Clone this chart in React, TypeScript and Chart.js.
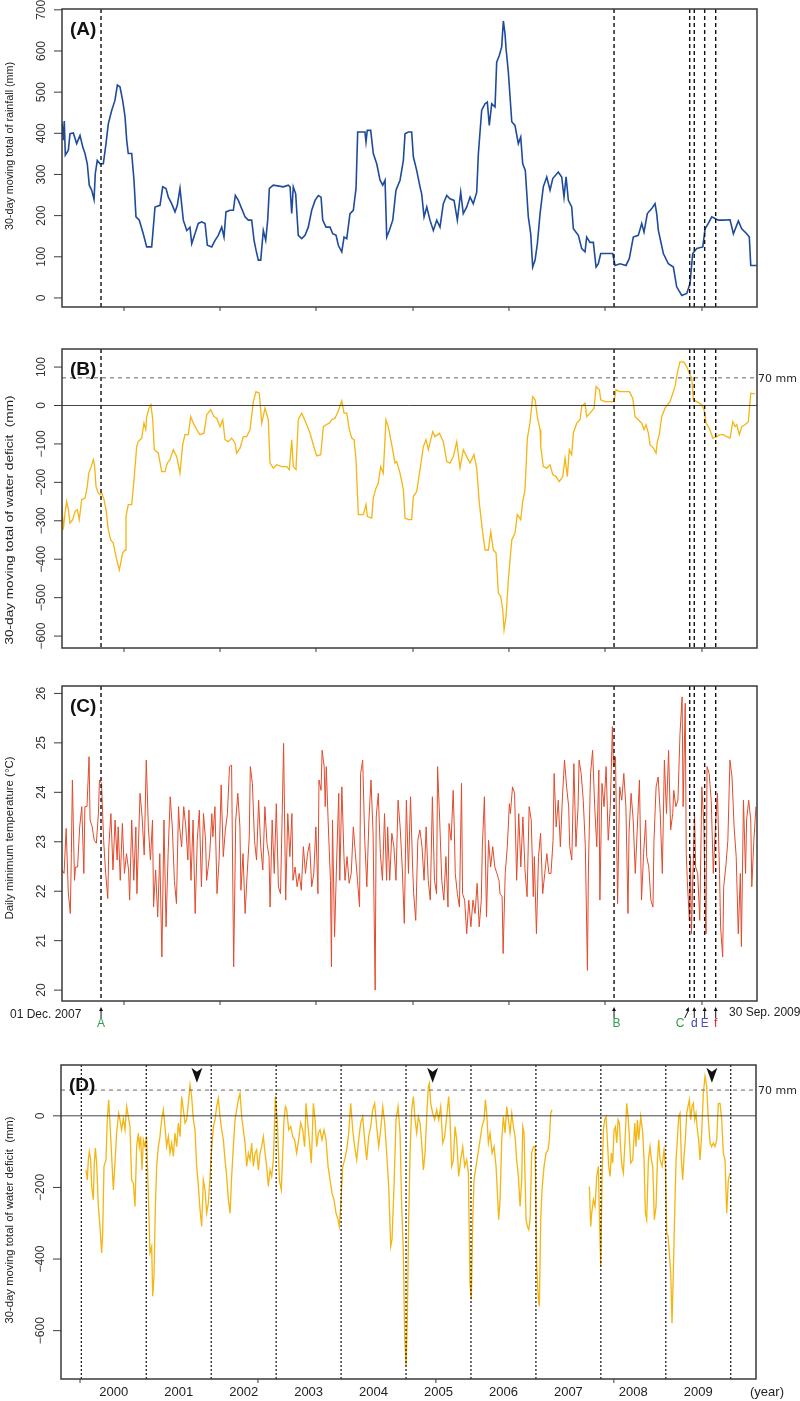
import React, { useEffect, useRef } from 'react';
import { Chart, registerables } from 'chart.js';
Chart.register(...registerables);

const FONT = '"Liberation Sans", Arial, sans-serif';

// ---------- Panels A-C: days since 01 Dec. 2007 ----------
const periodDays = [0, 668];
const eventDays = [37.5, 530.6, 603.3, 607.7, 617.7, 628.3];
const eventLabels = ['A', 'B', 'C', 'd', 'E', 'f'];
const eventColors = ['#2e9e4f', '#2e9e4f', '#2e9e4f', '#3a3aa8', '#4f4fc8', '#e0241b'];
const tickDays = [59.6, 151.9, 244.1, 337.4, 429.6, 521.9, 615.1];

// (A) 30-day moving total of rainfall (mm): [day, mm]
const rainfall: number[][] = [
  [0, 427], [1.3, 383], [2.2, 430], [3.2, 347], [6.1, 359], [7.7, 399], [10.9, 401], [14.1, 375], [17.3, 395], [19.9, 367],
  [22.1, 351], [24.3, 326], [26.2, 274], [28.5, 262], [30.8, 239], [32, 302], [33.9, 334], [36.5, 326], [39.7, 326], [42.3, 375],
  [44.5, 423], [47.8, 456], [50.9, 480], [53.2, 517], [55.7, 513], [58.3, 480], [60.6, 440], [62.2, 383], [63.7, 351], [67, 351],
  [69.2, 286], [71.1, 197], [74.3, 189], [78.1, 156], [81.4, 124], [86.2, 124], [89.4, 221], [94.2, 225], [96.8, 270], [100, 266],
  [102.2, 245], [105.4, 229], [108.6, 209], [110.8, 225], [113.4, 266], [116.6, 189], [119.9, 164], [123, 172], [124.7, 132], [127.8, 156],
  [131, 181], [134.3, 185], [137.5, 181], [139.7, 128], [143.9, 124], [147.1, 140], [150.2, 152], [153.5, 172], [155.7, 148], [157.6, 209],
  [161.5, 213], [164.7, 213], [166.6, 249], [169.5, 237], [172.7, 217], [175.9, 197], [179.1, 189], [182.3, 189], [184.6, 140], [186.5, 116],
  [188.7, 92], [191, 92], [193.5, 164], [195.8, 140], [197.7, 189], [199.3, 266], [203.1, 274], [212.7, 270], [217.5, 274], [219.2, 270],
  [220.8, 205], [222.3, 270], [224.6, 253], [227.1, 152], [230.4, 144], [233.6, 152], [236.7, 172], [240, 213], [243.2, 237], [246.4, 249],
  [249, 245], [250.6, 189], [253.8, 172], [257.6, 172], [260.2, 156], [263.4, 152], [265.6, 128], [268.9, 112], [271.1, 148], [273.7, 144],
  [276.8, 205], [280, 213], [282.6, 266], [284.2, 403], [291.2, 403], [292.2, 379], [293.4, 407], [296.7, 407], [299.2, 351], [302.5, 326],
  [305.7, 286], [308.3, 274], [310.5, 286], [312.1, 148], [314.6, 164], [317.9, 189], [321, 262], [324.9, 286], [328.1, 334], [329.7, 399],
  [332.9, 403], [336.1, 403], [337.7, 343], [340.9, 310], [344.1, 270], [345.7, 253], [348, 197], [350.6, 221], [353.7, 189], [356.9, 164],
  [360.2, 189], [363.3, 172], [366.5, 229], [369.8, 249], [372.9, 241], [376.8, 237], [380, 189], [383.2, 257], [385.7, 205], [389, 221],
  [392.2, 245], [395.3, 229], [398.6, 257], [400.2, 351], [403.4, 456], [406.6, 472], [408.8, 476], [410.7, 419], [413, 472], [416.2, 464],
  [417.8, 573], [420.3, 589], [422.6, 610], [424.2, 673], [425.8, 642], [426.8, 606], [429, 549], [432.3, 428], [435.4, 419], [438.6, 375],
  [440.9, 391], [442.8, 326], [445.3, 310], [448.2, 197], [450.5, 156], [452.4, 75], [454.7, 92], [456.9, 132], [459.5, 205], [462.6, 270],
  [465.9, 294], [469.1, 262], [471.7, 290], [477, 306], [480.3, 294], [482.5, 245], [484.5, 294], [486.7, 237], [489.9, 221], [491.5, 168],
  [496.3, 152], [499.5, 120], [502.7, 112], [504.3, 148], [507.5, 135], [510.7, 135], [513.3, 75], [515.5, 83], [517.8, 108], [529.3, 108],
  [531.5, 79], [536.4, 83], [542.1, 79], [545.3, 96], [549.1, 148], [553.9, 152], [557.2, 181], [559.4, 160], [562.6, 205], [566.8, 217],
  [570, 229], [571.6, 205], [573.2, 164], [578, 108], [582.8, 83], [587.6, 75], [590.8, 27], [595.7, 6], [600.5, 11], [603.6, 35],
  [606.2, 108], [610.1, 120], [615.9, 124], [618.1, 168], [621.2, 181], [624.5, 197], [627.7, 193], [630.8, 189], [635.6, 189], [642.1, 190],
  [645.3, 156], [650.1, 187], [653.3, 168], [658.1, 156], [660.6, 148], [662, 79], [667.8, 79],
];

// (B) 30-day moving total of water deficit (mm): [day, mm]
const deficit: number[][] = [
  [0, -263], [1.2, -323], [2.9, -280], [4.5, -250], [6.1, -271], [7.7, -306], [10.3, -297], [12.5, -276], [14.7, -271], [16.6, -297],
  [18.9, -245], [22.1, -241], [24.3, -211], [25.7, -176], [27.6, -163], [30.1, -141], [31.4, -159], [32.7, -211], [34.9, -228], [36.5, -232],
  [38.2, -228], [40.4, -245], [42.3, -271], [44.5, -323], [46.8, -350], [49.3, -358], [51.9, -393], [55.1, -428], [58.3, -384], [60.6, -376],
  [61.5, -289], [63.7, -258], [67, -258], [69.2, -193], [71.8, -107], [73.3, -94], [76.6, -85], [78.8, -46], [80.5, -63], [81.4, -29],
  [83.6, -7], [85.5, 2], [87.2, -37], [88.7, -115], [92.6, -124], [95.8, -172], [99, -172], [101.2, -150], [103.8, -141], [107, -115],
  [110.3, -133], [113.4, -176], [116, -102], [118.2, -76], [121.4, -76], [123.7, -29], [126.2, -46], [129.5, -63], [132.6, -76], [136.5, -72],
  [139.1, -24], [142.9, -11], [146.1, -29], [148.7, -33], [151.9, -55], [154.5, -37], [156.7, -89], [159.8, -94], [163.1, -85], [166.3, -98],
  [167.9, -124], [171.1, -111], [174.3, -81], [177.5, -81], [180.7, -63], [183.9, 10], [186.5, 36], [189.6, 32], [192, -46], [195.1, -7],
  [198.3, -37], [199.9, -150], [203.1, -163], [206.4, -154], [211.2, -159], [216, -159], [218.5, -167], [220.8, -89], [222.3, -159], [224.9, -167],
  [227.1, -37], [230.4, -20], [232.6, -33], [235.2, -50], [238.4, -72], [241.5, -102], [244.8, -131], [248.7, -128], [251.2, -55], [253.8, -50],
  [256.9, -46], [259.2, -37], [262.4, -33], [264.6, -20], [266.5, -7], [268.9, 12], [271.1, -20], [273.7, -20], [276.2, -63], [278.5, -85],
  [280.7, -89], [282.6, -141], [284.8, -284], [289.6, -284], [292.2, -258], [293.5, -289], [297.7, -293], [299.2, -241], [301.8, -215], [304, -202],
  [306.3, -159], [308.8, -176], [311.4, -37], [313.6, -55], [316.9, -102], [320.1, -150], [321.7, -146], [324.9, -176], [328.1, -219], [329.7, -293],
  [332.9, -297], [336.1, -297], [337.7, -237], [340.9, -224], [344.1, -167], [347.3, -107], [349.9, -89], [352.1, -115], [356.3, -68], [358.5, -81],
  [362.7, -72], [366.5, -94], [369.8, -146], [372.9, -150], [376.1, -133], [379.4, -94], [382.6, -163], [385.7, -115], [389, -133], [392.2, -150],
  [396, -128], [398.6, -163], [401.1, -254], [404.4, -332], [406.6, -376], [409.8, -376], [412.1, -328], [414.6, -376], [417.2, -384], [419.4, -488],
  [421.7, -497], [423.6, -532], [424.9, -584], [426.8, -549], [429, -454], [432.3, -350], [435.4, -332], [437.6, -284], [440.9, -297], [442.8, -250],
  [445, -219], [447.3, -85], [449.8, -46], [452.4, 23], [454.7, 15], [456.9, -29], [459.5, -63], [460.2, -107], [462.6, -159], [465.9, -163],
  [469.1, -154], [471.7, -180], [474.8, -185], [478, -198], [481.3, -185], [483.5, -137], [485.7, -185], [487.6, -115], [489.9, -128], [491.5, -72],
  [494.7, -46], [497.9, -37], [499.5, -3], [502.7, 6], [504.3, -29], [507.5, -20], [511.4, -7], [513.3, 49], [516.5, 41], [517.8, 15],
  [521.9, 10], [526.7, 10], [530.6, 10], [532.5, 41], [535.7, 36], [541.2, 36], [545.3, 36], [548.6, 19], [550.8, -29], [553.9, -37],
  [557.2, -46], [559.4, -63], [561.3, -50], [563.6, -72], [565.2, -102], [568.4, -111], [571, -124], [572.2, -94], [574.1, -76], [576.4, -29],
  [579.6, -7], [584.4, 10], [586, 23], [589.2, 49], [591.4, 84], [594, 114], [597.9, 112], [600.5, 101], [603, 84], [605.3, 71],
  [606.8, 15], [610.1, 10], [614.9, 2], [617.1, -11], [619, -46], [622.2, -59], [625.5, -85], [629.3, -81], [632.5, -76], [635.6, -76],
  [638.9, -81], [642.1, -85], [644.7, -42], [646.9, -55], [648.5, -50], [651, -76], [653.3, -55], [656.5, -50], [659.7, -42], [662, 32],
  [666.1, 30],
];

// (C) Daily minimum temperature (°C): [day, °C]
const minTemp: number[][] = [
  [0, 22.43], [2, 22.36], [4, 23.27], [6, 21.99], [8, 21.55], [9, 22.76], [10, 24.25], [12, 22.22], [13, 22.49], [15, 22.49],
  [17, 23.3], [19, 23.71], [21, 22.36], [22, 23.71], [24, 23.71], [26, 24.72], [27, 23.44], [29, 23.3], [31, 23.03], [33, 22.97],
  [35, 23.57], [36, 24.25], [38, 24.18], [40, 23.03], [42, 22.36], [44, 21.85], [45, 22.9], [47, 23.57], [49, 22.43], [51, 23.44],
  [53, 22.63], [54, 23.3], [56, 22.22], [58, 23.37], [60, 22.36], [62, 22.76], [64, 22.43], [65, 21.82], [67, 23.44], [69, 22.22],
  [71, 23.3], [72, 21.95], [75, 23.98], [77, 23.5], [79, 22.73], [81, 24.65], [83, 23.3], [85, 22.63], [87, 23.44], [88, 21.68],
  [90, 22.43], [92, 21.48], [94, 22.76], [96, 20.67], [98, 23.44], [100, 21.28], [102, 22.76], [104, 23.91], [106, 23.3], [108, 22.22],
  [110, 21.75], [112, 23.71], [113, 23.3], [115, 22.9], [117, 23.71], [119, 23.3], [121, 22.63], [122, 23.64], [124, 22.22], [126, 23.44],
  [128, 21.55], [130, 23.03], [132, 23.64], [134, 22.09], [136, 23.57], [138, 23.03], [139, 22.22], [142, 22.76], [144, 23.57], [145, 23.1],
  [147, 23.71], [149, 21.95], [151, 22.63], [153, 24.15], [155, 22.7], [157, 23.24], [159, 23.57], [161, 24.52], [163, 24.55], [165, 20.47],
  [167, 23.44], [169, 23.98], [171, 23.3], [172, 22.02], [174, 22.76], [176, 21.55], [178, 22.36], [180, 23.1], [181, 24.52], [183, 24.18],
  [185, 23.03], [187, 22.63], [189, 23.84], [191, 22.9], [193, 22.43], [195, 23.71], [197, 22.97], [199, 22.7], [200, 21.68], [202, 23.44],
  [204, 22.36], [206, 23.77], [208, 22.09], [210, 21.95], [212, 23.91], [213, 24.99], [215, 21.82], [217, 23.57], [219, 22.7], [221, 23.57],
  [222, 22.22], [224, 22.49], [226, 22.09], [228, 22.36], [230, 22.02], [232, 22.9], [234, 22.36], [236, 22.76], [238, 22.97], [240, 22.09],
  [242, 22.36], [244, 23.3], [246, 21.95], [247, 24.25], [249, 24.04], [250, 24.85], [252, 24.52], [253, 23.71], [254, 24.52], [256, 23.3],
  [258, 22.22], [259, 20.47], [260, 23.44], [262, 21.08], [264, 22.63], [266, 23.98], [267, 22.22], [269, 24.11], [271, 22.7], [272, 22.22],
  [274, 22.7], [276, 22.16], [278, 22.36], [280, 23.3], [282, 22.76], [284, 22.22], [286, 21.68], [287, 24.38], [289, 24.65], [291, 23.03],
  [293, 22.09], [295, 23.44], [297, 24.25], [299, 23.17], [301, 20.0], [302, 23.5], [304, 23.98], [306, 22.76], [308, 22.22], [310, 23.57],
  [312, 22.22], [313, 23.3], [315, 22.22], [317, 23.17], [319, 22.9], [321, 22.22], [323, 23.84], [325, 23.3],
  [327, 22.49], [329, 21.35], [331, 23.84], [333, 22.36], [335, 23.91], [337, 22.49], [338, 21.95], [340, 21.41], [342, 23.03], [344, 23.24],
  [346, 22.9], [348, 22.22], [350, 23.3], [352, 22.22], [354, 21.82], [356, 23.91], [358, 22.22], [360, 21.95], [361, 24.52], [363, 23.44],
  [365, 22.22], [367, 21.82], [369, 22.7], [371, 21.68], [372, 23.37], [374, 23.03], [376, 24.04], [377, 23.3], [378, 22.36], [380, 21.95],
  [382, 21.68], [384, 24.18], [385, 21.95], [387, 21.82], [389, 21.14], [391, 21.82], [393, 21.28], [395, 21.82], [397, 21.55], [399, 22.16],
  [401, 21.28], [403, 21.82], [404, 22.9], [406, 23.91], [408, 21.48], [410, 23.03], [412, 22.49], [414, 22.9], [416, 22.49], [418, 22.36],
  [420, 22.22], [421, 21.95], [423, 21.89], [424, 20.74], [426, 22.36], [428, 22.9], [430, 23.77], [431, 23.57], [433, 24.11], [435, 23.98],
  [437, 22.22], [439, 23.57], [441, 22.49], [443, 23.5], [445, 22.43], [447, 21.89], [449, 23.71], [451, 23.44], [453, 21.89], [454, 22.7],
  [456, 21.14], [458, 22.7], [460, 23.17], [462, 21.95], [464, 22.36], [466, 22.76], [468, 22.36], [470, 22.36], [472, 23.03], [473, 24.38],
  [475, 23.3], [477, 23.84], [479, 22.9], [481, 23.91], [483, 24.65], [485, 24.11], [487, 23.71], [488, 22.9], [490, 22.63], [492, 24.58],
  [494, 22.9], [496, 23.71], [497, 24.65], [499, 24.38], [501, 23.84], [503, 22.9], [505, 20.4], [506, 22.49], [508, 24.38], [510, 24.85],
  [512, 23.71], [514, 22.9], [516, 24.45], [517, 21.82], [519, 24.18], [521, 23.71], [523, 24.52], [525, 23.03], [527, 23.71], [529, 25.33],
  [530, 24.52], [532, 24.72], [534, 21.75], [536, 24.11], [538, 23.84], [540, 24.38], [542, 23.71], [544, 21.55], [545, 23.17], [547, 23.98],
  [549, 23.44], [551, 22.36], [553, 23.3], [555, 24.25], [557, 21.82], [559, 22.76], [561, 23.44], [562, 22.7], [564, 22.49], [566, 21.82],
  [568, 21.68], [569, 23.03], [571, 24.11], [573, 24.31], [575, 23.57], [577, 22.36], [579, 24.65], [581, 23.57], [583, 24.85], [585, 23.24],
  [587, 23.57], [588, 24.04], [590, 23.71], [592, 23.84], [594, 25.19], [596, 25.93], [597, 23.71], [599, 25.8], [600, 22.76], [601, 22.22],
  [603, 21.41], [604, 22.7], [605, 21.14], [606, 22.02], [608, 23.57], [609, 22.49], [611, 22.36], [613, 21.41], [615, 24.11], [617, 23.3],
  [618, 21.95], [619, 21.14], [620, 24.52], [622, 24.38], [624, 23.84], [626, 22.36], [628, 23.3], [630, 23.98], [632, 22.36], [633, 21.28],
  [635, 20.67], [636, 22.09], [638, 22.49], [640, 23.03], [642, 24.65], [644, 24.31], [646, 23.3], [648, 22.7], [650, 21.14], [652, 22.36],
  [653, 20.88], [655, 23.84], [657, 22.36], [658, 23.44], [660, 23.84], [662, 23.44], [663, 22.09], [665, 23.03], [667, 23.71],
];

// ---------- Panel D: decimal year ----------
const yearRange = [1999.687, 2010.389];
const yearBounds = [2000, 2001, 2002, 2003, 2004, 2005, 2006, 2007, 2008, 2009, 2010];
const yearLabels = ['2000', '2001', '2002', '2003', '2004', '2005', '2006', '2007', '2008', '2009'];
const longTicks = [1999.98, 2002.72, 2005.46, 2008.2];
const peakYears = [2001.78, 2005.41, 2009.71];
const peakLevel = 115;
const deficitThreshold = 72;

// (D) 30-day moving total of water deficit 2000-2009: [year, mm] (null = missing data)
const longDeficit: (number | null)[][] = [
  [2000.072, -151], [2000.092, -179], [2000.108, -123], [2000.123, -100], [2000.144, -123], [2000.159, -197], [2000.185, -234], [2000.2, -132], [2000.216, -90], [2000.236, -132],
  [2000.262, -253], [2000.287, -309], [2000.313, -383], [2000.329, -327], [2000.349, -141], [2000.38, -123], [2000.4, -11], [2000.421, 45], [2000.441, -20], [2000.467, -113],
  [2000.493, -207], [2000.518, -132], [2000.544, -48], [2000.575, 7], [2000.595, -11], [2000.621, -39], [2000.647, -7], [2000.672, -39], [2000.698, 26], [2000.724, -2],
  [2000.749, -30], [2000.775, -179], [2000.801, -188], [2000.826, -253], [2000.852, -86], [2000.878, -48], [2000.893, -86], [2000.914, -58], [2000.934, -151], [2000.955, -67],
  [2000.98, -86], [2001.006, -58], [2001.016, -123], [2001.037, -253], [2001.057, -383], [2001.083, -365], [2001.099, -504], [2001.119, -448], [2001.14, -253], [2001.16, -141],
  [2001.186, -86], [2001.211, -58], [2001.237, -11], [2001.263, 17], [2001.288, -30], [2001.314, -86], [2001.34, -58], [2001.366, -104], [2001.391, -76], [2001.417, -113],
  [2001.442, -48], [2001.468, -86], [2001.494, -20], [2001.52, -58], [2001.545, 54], [2001.571, 17], [2001.597, -20], [2001.622, -11], [2001.648, 35], [2001.674, 87],
  [2001.699, 54], [2001.725, -11], [2001.75, -39], [2001.776, -141], [2001.802, -197], [2001.828, -262], [2001.853, -309], [2001.879, -179], [2001.905, -207], [2001.93, -272],
  [2001.956, -244], [2001.982, -169], [2002.002, -104], [2002.033, -30], [2002.059, -11], [2002.084, 26], [2002.11, 49], [2002.136, -2], [2002.161, -39], [2002.187, -67],
  [2002.213, -123], [2002.238, -169], [2002.264, -234], [2002.29, -272], [2002.315, -169], [2002.341, -86], [2002.367, -11], [2002.392, 17], [2002.418, 45], [2002.444, 63],
  [2002.469, -2], [2002.495, -39], [2002.521, -76], [2002.546, -141], [2002.572, -104], [2002.598, -123], [2002.623, -76], [2002.649, -141], [2002.675, -104], [2002.7, -95],
  [2002.726, -151], [2002.752, -104], [2002.777, -86], [2002.803, -58], [2002.829, -104], [2002.854, -141], [2002.88, -197], [2002.906, -151], [2002.931, -169], [2002.957, -123],
  [2002.988, 54], [2003.018, -11], [2003.049, -179], [2003.08, -207], [2003.101, -104], [2003.121, -11], [2003.142, 26], [2003.162, 17], [2003.193, -39], [2003.224, -30],
  [2003.255, -58], [2003.285, -67], [2003.316, -104], [2003.347, -67], [2003.378, -20], [2003.409, -39], [2003.439, -86], [2003.46, 35], [2003.481, -11], [2003.511, -67],
  [2003.542, -132], [2003.573, 35], [2003.599, -11], [2003.624, -86], [2003.65, -48], [2003.676, -39], [2003.706, -67], [2003.737, -39], [2003.768, -67], [2003.799, -141],
  [2003.83, -179], [2003.86, -216], [2003.891, -234], [2003.922, -272], [2003.953, -290], [2003.973, -309], [2003.994, -253], [2004.025, -141], [2004.055, -123], [2004.086, -95],
  [2004.117, -48], [2004.148, 35], [2004.179, -39], [2004.209, -86], [2004.24, -123], [2004.271, -67], [2004.302, -20], [2004.333, -2], [2004.363, -67], [2004.394, -123],
  [2004.425, -58], [2004.456, -30], [2004.487, 17], [2004.517, 35], [2004.548, -30], [2004.579, -86], [2004.61, -39], [2004.641, 26], [2004.671, -20], [2004.702, -104],
  [2004.733, -197], [2004.764, -365], [2004.784, -346], [2004.815, -197], [2004.846, -11], [2004.877, 26], [2004.908, -48], [2004.933, -253], [2004.959, -383], [2004.979, -616],
  [2005.0, -700], [2005.02, -569], [2005.041, -290], [2005.062, -104], [2005.087, 17], [2005.113, 54], [2005.139, -11], [2005.164, -48], [2005.19, -2], [2005.216, -20],
  [2005.241, -76], [2005.267, -151], [2005.293, -104], [2005.318, -2], [2005.344, 82], [2005.359, 91], [2005.38, 35], [2005.411, 7], [2005.441, -11], [2005.472, 17],
  [2005.503, -11], [2005.534, 26], [2005.565, -76], [2005.595, -58], [2005.626, -2], [2005.657, 54], [2005.678, -11], [2005.703, -141], [2005.729, -123], [2005.755, -30],
  [2005.78, -67], [2005.811, -169], [2005.842, -123], [2005.873, -86], [2005.903, -141], [2005.934, -123], [2005.96, -160], [2005.985, -467], [2006.006, -513], [2006.027, -290],
  [2006.047, -179], [2006.078, -141], [2006.109, -104], [2006.14, -67], [2006.17, -30], [2006.201, -11], [2006.222, 45], [2006.242, 7], [2006.268, -76], [2006.294, -48],
  [2006.325, -104], [2006.355, -86], [2006.386, -141], [2006.407, -216], [2006.427, -290], [2006.448, -234], [2006.474, -67], [2006.499, -2], [2006.525, -48], [2006.551, 26],
  [2006.576, -11], [2006.602, -48], [2006.628, 7], [2006.653, -30], [2006.679, -58], [2006.704, -123], [2006.73, -169], [2006.756, -253], [2006.781, -179], [2006.797, -30],
  [2006.817, -48], [2006.848, -290], [2006.869, -309], [2006.889, -318], [2006.91, -290], [2006.935, -104], [2006.961, -86], [2006.987, -86], [2007.012, -420], [2007.038, -513],
  [2007.053, -532], [2007.074, -290], [2007.094, -207], [2007.125, -141], [2007.156, -104], [2007.187, -95], [2007.207, -67], [2007.228, 7], [2007.248, 17], [2007.5, null],
  [2007.823, -197], [2007.844, -309], [2007.859, -272], [2007.885, -234], [2007.911, -253], [2007.936, -169], [2007.962, -141], [2007.977, -272], [2007.998, -420], [2008.018, -179],
  [2008.039, -39], [2008.059, -11], [2008.08, -2], [2008.1, -67], [2008.121, -141], [2008.142, -169], [2008.162, -104], [2008.183, -132], [2008.203, -39], [2008.224, -30],
  [2008.244, -76], [2008.265, -11], [2008.285, -20], [2008.306, -95], [2008.326, -141], [2008.347, -160], [2008.373, -67], [2008.398, 35], [2008.419, -2], [2008.439, -58],
  [2008.46, -132], [2008.491, -123], [2008.522, -20], [2008.542, -86], [2008.563, -11], [2008.583, -67], [2008.614, -2], [2008.645, -48], [2008.665, -123], [2008.686, -272],
  [2008.706, -290], [2008.732, -123], [2008.758, -86], [2008.778, -123], [2008.799, -141], [2008.824, -290], [2008.85, -253], [2008.871, -123], [2008.891, -67], [2008.912, -123],
  [2008.943, -141], [2008.973, -95], [2008.994, -141], [2009.014, -327], [2009.035, -337], [2009.055, -383], [2009.076, -439], [2009.096, -579], [2009.117, -430], [2009.137, -272],
  [2009.158, -123], [2009.178, -67], [2009.199, -2], [2009.219, 7], [2009.24, -123], [2009.26, -179], [2009.281, -113], [2009.301, -67], [2009.322, 7], [2009.342, 26],
  [2009.363, 45], [2009.383, -11], [2009.404, 26], [2009.424, 35], [2009.445, -11], [2009.465, 7], [2009.486, -39], [2009.506, -67], [2009.527, -123], [2009.553, -48],
  [2009.578, 63], [2009.604, 110], [2009.63, 82], [2009.655, -11], [2009.681, -76], [2009.707, -86], [2009.732, -76], [2009.758, -86], [2009.784, -67], [2009.809, 35],
  [2009.835, 35], [2009.861, -11], [2009.886, -104], [2009.912, -123], [2009.938, -272], [2009.963, -179], [2009.989, -160],
];

const rainTicks = [0, 100, 200, 300, 400, 500, 600, 700];
const deficitTicks = [100, 0, -100, -200, -300, -400, -500, -600];
const tempTicks = [20, 21, 22, 23, 24, 25, 26];
const longTicksY = [0, -200, -400, -600];

const BLUE = '#1f4b9c';
const AMBER = '#f5b512';
const RED = '#e24a2c';

const PANELS = [
  { top: 0, h: 330 },
  { top: 320, h: 340 },
  { top: 650, h: 400 },
  { top: 1040, h: 361 },
];

function lab(v: number) {
  return v < 0 ? '\u2212' + Math.abs(v) : String(v);
}

function vText(ctx: CanvasRenderingContext2D, text: string, x: number, y: number, font: string, color: string, len?: number) {
  ctx.save();
  ctx.translate(x, y);
  ctx.rotate(-Math.PI / 2);
  ctx.font = font;
  ctx.fillStyle = color;
  ctx.textAlign = 'center';
  ctx.textBaseline = 'middle';
  if (len) {
    const w = ctx.measureText(text).width;
    ctx.scale(len / w, 1);
  }
  ctx.fillText(text, 0, 0);
  ctx.restore();
}

function hText(ctx: CanvasRenderingContext2D, text: string, x: number, y: number, font: string, color: string, align: CanvasTextAlign = 'left') {
  ctx.save();
  ctx.font = font;
  ctx.fillStyle = color;
  ctx.textAlign = align;
  ctx.textBaseline = 'middle';
  ctx.fillText(text, x, y);
  ctx.restore();
}

function frame(chart: any) {
  const { ctx, chartArea: ca } = chart;
  ctx.save();
  ctx.strokeStyle = '#3a3a3a';
  ctx.lineWidth = 1.5;
  ctx.setLineDash([]);
  ctx.strokeRect(ca.left, ca.top, ca.right - ca.left, ca.bottom - ca.top);
  ctx.restore();
}

// titleY is given in page coordinates; panelTop converts it into canvas coordinates
function yAxis(chart: any, ticks: number[], title: string, titleY: number, titleLen: number, panelTop: number) {
  const { ctx, chartArea: ca } = chart;
  const ys = chart.scales.y;
  ctx.save();
  ctx.strokeStyle = '#3a3a3a';
  ctx.lineWidth = 1;
  ticks.forEach((v) => {
    const py = ys.getPixelForValue(v);
    ctx.beginPath();
    ctx.moveTo(ca.left - 8, py);
    ctx.lineTo(ca.left, py);
    ctx.stroke();
    vText(ctx, lab(v), ca.left - 20, py, `12px ${FONT}`, '#333');
  });
  ctx.restore();
  vText(ctx, title, 10, titleY - panelTop, `11px ${FONT}`, '#222', titleLen);
}

function xTicks(chart: any, values: number[]) {
  const { ctx, chartArea: ca } = chart;
  const xs = chart.scales.x;
  ctx.save();
  ctx.strokeStyle = '#3a3a3a';
  ctx.lineWidth = 1;
  values.forEach((v) => {
    const px = xs.getPixelForValue(v);
    ctx.beginPath();
    ctx.moveTo(px, ca.bottom);
    ctx.lineTo(px, ca.bottom + 4);
    ctx.stroke();
  });
  ctx.restore();
}

function vLines(chart: any, values: number[], dash: number[], width: number) {
  const { ctx, chartArea: ca } = chart;
  const xs = chart.scales.x;
  ctx.save();
  ctx.strokeStyle = '#111';
  ctx.lineWidth = width;
  ctx.setLineDash(dash);
  values.forEach((v) => {
    const px = xs.getPixelForValue(v);
    ctx.beginPath();
    ctx.moveTo(px, ca.top);
    ctx.lineTo(px, ca.bottom);
    ctx.stroke();
  });
  ctx.restore();
}

function hLine(chart: any, v: number, dash: number[], color: string, width: number) {
  const { ctx, chartArea: ca } = chart;
  const py = chart.scales.y.getPixelForValue(v);
  ctx.save();
  ctx.strokeStyle = color;
  ctx.lineWidth = width;
  ctx.setLineDash(dash);
  ctx.beginPath();
  ctx.moveTo(ca.left, py);
  ctx.lineTo(ca.right, py);
  ctx.stroke();
  ctx.restore();
}

function panelTag(chart: any, text: string) {
  const { ctx, chartArea: ca } = chart;
  hText(ctx, text, ca.left + 8, ca.top + 21, `bold 19px ${FONT}`, '#111');
}

function makeChart(canvas: HTMLCanvasElement, o: any) {
  return new Chart(canvas, {
    type: 'line',
    data: {
      datasets: [
        {
          data: o.series.map((p: any) => ({ x: p[0], y: p[1] })),
          borderColor: o.color,
          borderWidth: o.width,
          pointRadius: 0,
          tension: 0,
          fill: false,
          spanGaps: false,
        },
      ],
    },
    options: {
      responsive: false,
      animation: false,
      events: [],
      layout: { padding: o.pad },
      plugins: { legend: { display: false }, tooltip: { enabled: false } },
      scales: {
        x: { type: 'linear', min: o.xMin, max: o.xMax, display: false },
        y: { type: 'linear', min: o.yMin, max: o.yMax, display: false },
      },
    },
    plugins: [{ id: 'decor', afterDatasetsDraw: (chart: any) => o.draw(chart) }],
  } as any);
}

export default function App() {
  const r0 = useRef<HTMLCanvasElement>(null);
  const r1 = useRef<HTMLCanvasElement>(null);
  const r2 = useRef<HTMLCanvasElement>(null);
  const r3 = useRef<HTMLCanvasElement>(null);

  useEffect(() => {
    const charts: Chart[] = [];

    charts.push(
      makeChart(r0.current!, {
        series: rainfall, color: BLUE, width: 1.6,
        xMin: periodDays[0], xMax: periodDays[1], yMin: -22, yMax: 702,
        pad: { left: 62, right: 43, top: 9, bottom: 23 },
        draw: (c: any) => {
          vLines(c, eventDays, [4, 3], 1.4);
          frame(c);
          yAxis(c, rainTicks, '30-day moving total of rainfall (mm)', 146, 168, PANELS[0].top);
          xTicks(c, tickDays);
          panelTag(c, '(A)');
        },
      })
    );

    charts.push(
      makeChart(r1.current!, {
        series: deficit, color: AMBER, width: 1.3,
        xMin: periodDays[0], xMax: periodDays[1], yMin: -631, yMax: 147,
        pad: { left: 62, right: 43, top: 29, bottom: 12 },
        draw: (c: any) => {
          hLine(c, 0, [], '#444', 1);
          hLine(c, deficitThreshold, [4, 4], '#666', 1);
          vLines(c, eventDays, [4, 3], 1.4);
          frame(c);
          yAxis(c, deficitTicks, '30-day moving total of water deficit  (mm)', 520, 249, PANELS[1].top);
          xTicks(c, tickDays);
          panelTag(c, '(B)');
          const py = c.scales.y.getPixelForValue(deficitThreshold);
          hText(c.ctx, '70 mm', c.chartArea.right + 1, py + 1, `11px "DejaVu Sans", sans-serif`, '#222');
        },
      })
    );

    charts.push(
      makeChart(r2.current!, {
        series: minTemp, color: RED, width: 1,
        xMin: periodDays[0], xMax: periodDays[1], yMin: 19.78, yMax: 26.15,
        pad: { left: 62, right: 43, top: 36, bottom: 49 },
        draw: (c: any) => {
          vLines(c, eventDays, [4, 3], 1.4);
          frame(c);
          yAxis(c, tempTicks, 'Daily minimum temperature (\u00B0C)', 838, 163, PANELS[2].top);
          xTicks(c, tickDays);
          panelTag(c, '(C)');
          const { ctx, chartArea: ca } = c;
          const xs = c.scales.x;
          const labelOffsets = [0, 2.5, -9.5, 0, 0, 0];
          eventDays.forEach((d, i) => {
            const px = xs.getPixelForValue(d);
            const slant = i === 2 ? -5 : 0;
            const x0 = px + slant, y0 = ca.bottom + 17;
            const x1 = px - (slant ? 1 : 0), y1 = ca.bottom + 6;
            ctx.save();
            ctx.strokeStyle = '#111';
            ctx.fillStyle = '#111';
            ctx.lineWidth = 1;
            ctx.beginPath();
            ctx.moveTo(x0, y0);
            ctx.lineTo(x1, y1 + 3);
            ctx.stroke();
            const ang = Math.atan2(y1 - y0, x1 - x0);
            ctx.beginPath();
            ctx.moveTo(x1, y1);
            ctx.lineTo(x1 - 4.5 * Math.cos(ang - 0.45), y1 - 4.5 * Math.sin(ang - 0.45));
            ctx.lineTo(x1 - 4.5 * Math.cos(ang + 0.45), y1 - 4.5 * Math.sin(ang + 0.45));
            ctx.closePath();
            ctx.fill();
            ctx.restore();
            hText(ctx, eventLabels[i], px + labelOffsets[i], ca.bottom + 23, `12px ${FONT}`, eventColors[i], 'center');
          });
          hText(ctx, '01 Dec. 2007', 10, ca.bottom + 14, `12px ${FONT}`, '#222');
          hText(ctx, '30 Sep. 2009', ca.right - 28, ca.bottom + 12, `12px ${FONT}`, '#222');
        },
      })
    );

    charts.push(
      makeChart(r3.current!, {
        series: longDeficit, color: AMBER, width: 1.3,
        xMin: yearRange[0], xMax: yearRange[1], yMin: -735, yMax: 142,
        pad: { left: 61, right: 44, top: 25, bottom: 22 },
        draw: (c: any) => {
          const { ctx, chartArea: ca } = c;
          const xs = c.scales.x;
          const ys = c.scales.y;
          hLine(c, 0, [], '#444', 1);
          hLine(c, deficitThreshold, [4, 4], '#666', 1);
          vLines(c, yearBounds, [2, 2], 1.2);
          frame(c);
          yAxis(c, longTicksY, '30-day moving total of water deficit  (mm)', 1220, 207, PANELS[3].top);
          xTicks(c, longTicks);
          panelTag(c, '(D)');
          ctx.save();
          ctx.fillStyle = '#111';
          peakYears.forEach((yr) => {
            const px = xs.getPixelForValue(yr);
            const py = ys.getPixelForValue(peakLevel);
            ctx.beginPath();
            ctx.moveTo(px, py + 8);
            ctx.lineTo(px - 5.5, py - 7);
            ctx.lineTo(px, py - 3);
            ctx.lineTo(px + 5.5, py - 7);
            ctx.closePath();
            ctx.fill();
          });
          ctx.restore();
          yearLabels.forEach((t, i) => {
            const px = xs.getPixelForValue(yearBounds[i] + 0.5);
            hText(ctx, t, px, ca.bottom + 13, `13px ${FONT}`, '#222', 'center');
          });
          hText(ctx, '(year)', ca.right + 11, ca.bottom + 13, `13px ${FONT}`, '#222', 'center');
          const py = ys.getPixelForValue(deficitThreshold);
          hText(ctx, '70 mm', ca.right + 2, py + 1, `11px "DejaVu Sans", sans-serif`, '#222');
        },
      })
    );

    return () => charts.forEach((c) => c.destroy());
  }, []);

  const refs = [r0, r1, r2, r3];
  return (
    <div style={{ position: 'absolute', left: 0, top: 0, width: 800, height: 1401, background: '#fff' }}>
      {PANELS.map((p, i) => (
        <canvas
          key={i}
          ref={refs[i]}
          width={800}
          height={p.h}
          style={{ position: 'absolute', left: 0, top: p.top, width: 800, height: p.h }}
        />
      ))}
    </div>
  );
}
